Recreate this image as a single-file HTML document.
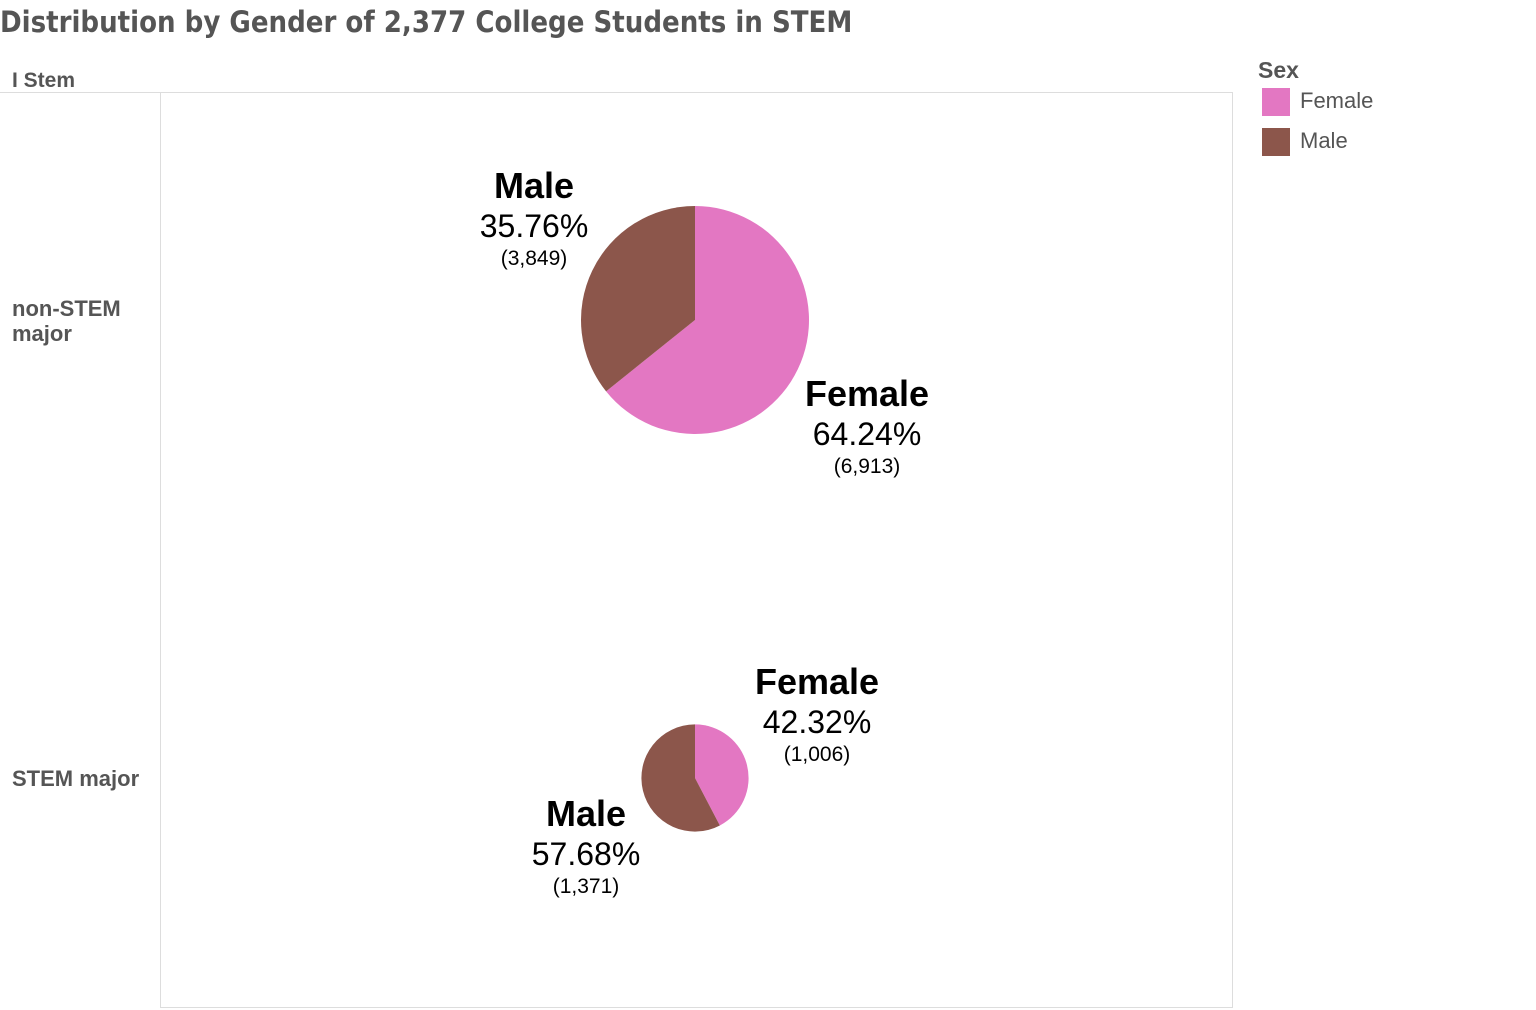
<!DOCTYPE html>
<html><head><meta charset="utf-8"><style>
body{margin:0;width:1536px;height:1010px;background:#fff;font-family:"Liberation Sans",sans-serif;overflow:hidden;position:relative}
.t{position:absolute;white-space:nowrap}
</style></head><body>
<div class="t" style="left:0;top:5px;font-family:'DejaVu Sans Condensed','DejaVu Sans',sans-serif;font-weight:bold;font-size:29px;color:#555">Distribution by Gender of 2,377 College Students in STEM</div>
<div class="t" style="left:12px;top:69px;font-size:21px;font-weight:bold;color:#555">I Stem</div>
<div class="t" style="left:12px;top:296px;font-size:22px;font-weight:bold;color:#555;line-height:25px">non-STEM<br>major</div>
<div class="t" style="left:12px;top:766px;font-size:22px;font-weight:bold;color:#555">STEM major</div>
<div>
<div class="t" style="left:1258px;top:57px;font-size:23px;font-weight:bold;color:#555">Sex</div>
<div class="t" style="left:1262px;top:88px;font-size:22px;color:#555"><span style="display:inline-block;width:28px;height:28px;background:#e377c2;vertical-align:middle;margin-right:10px"></span>Female</div>
<div class="t" style="left:1262px;top:128px;font-size:22px;color:#555"><span style="display:inline-block;width:28px;height:28px;background:#8c564b;vertical-align:middle;margin-right:10px"></span>Male</div>
</div>
<svg id="chart" width="1536" height="1010" style="position:absolute;left:0;top:0">
<line x1="0" y1="92.5" x2="1232" y2="92.5" stroke="#ddd"/>
<line x1="160.5" y1="92" x2="160.5" y2="1008" stroke="#ddd"/>
<line x1="1232.5" y1="92" x2="1232.5" y2="1008" stroke="#ddd"/>
<line x1="160" y1="1007.5" x2="1232" y2="1007.5" stroke="#ddd"/>
<g id="pies"></g>
</svg>
<script>
const rows=["non-STEM major","STEM major"];
const femaleCounts=[6913,1006];
const maleCounts=[3849,1371];
const centersY=[320,778];
const cx=695;
const colors={Female:"#e377c2",Male:"#8c564b"};
const baseR=114;
// label anchor offsets relative to pie center (layout, not data)
const labelOff={Female:[[172,86],[122,-84]],Male:[[-161,-122],[-109,48]]};
const maxTotal=Math.max(...rows.map((r,i)=>femaleCounts[i]+maleCounts[i]));
const g=document.getElementById('pies');
const NS="http://www.w3.org/2000/svg";
function pt(cy,r,a){return [cx+r*Math.sin(a),cy-r*Math.cos(a)];}
function txt(x,y,s,size,bold,name){
  const t=document.createElementNS(NS,'text');
  t.setAttribute('x',x);t.setAttribute('y',y);t.setAttribute('text-anchor','middle');
  t.setAttribute('font-size',size);if(bold)t.setAttribute('font-weight','bold');
  t.setAttribute('fill','#000');t.textContent=s;
  
  
  g.appendChild(t);
}
rows.forEach((row,i)=>{
  const f=femaleCounts[i],m=maleCounts[i],tot=f+m;
  const r=baseR*Math.sqrt(tot/maxTotal);
  const cy=centersY[i];
  const fa=2*Math.PI*f/tot;
  [["Female",0,fa,f],["Male",fa,2*Math.PI,m]].forEach(([sex,a0,a1,v])=>{
    const p0=pt(cy,r,a0),p1=pt(cy,r,a1);
    const large=(a1-a0)>Math.PI?1:0;
    const p=document.createElementNS(NS,'path');
    p.setAttribute('d',`M${cx},${cy}L${p0[0]},${p0[1]}A${r},${r} 0 ${large} 1 ${p1[0]},${p1[1]}Z`);
    p.setAttribute('fill',colors[sex]);
    
    
    g.appendChild(p);
    const lx=cx+labelOff[sex][i][0];
    const ly=cy+labelOff[sex][i][1];
    const pct=(v/tot*100).toFixed(2)+'%';
    const tag=sex.toLowerCase()+'-'+(i===0?'non-stem':'stem');
    txt(lx,ly,sex,36,true,'label-name-'+tag);
    txt(lx,ly+39,pct,32,false,'label-pct-'+tag);
    txt(lx,ly+67,'('+v.toLocaleString('en-US')+')',21,false,'label-count-'+tag);
  });
});
</script>
</body></html>
